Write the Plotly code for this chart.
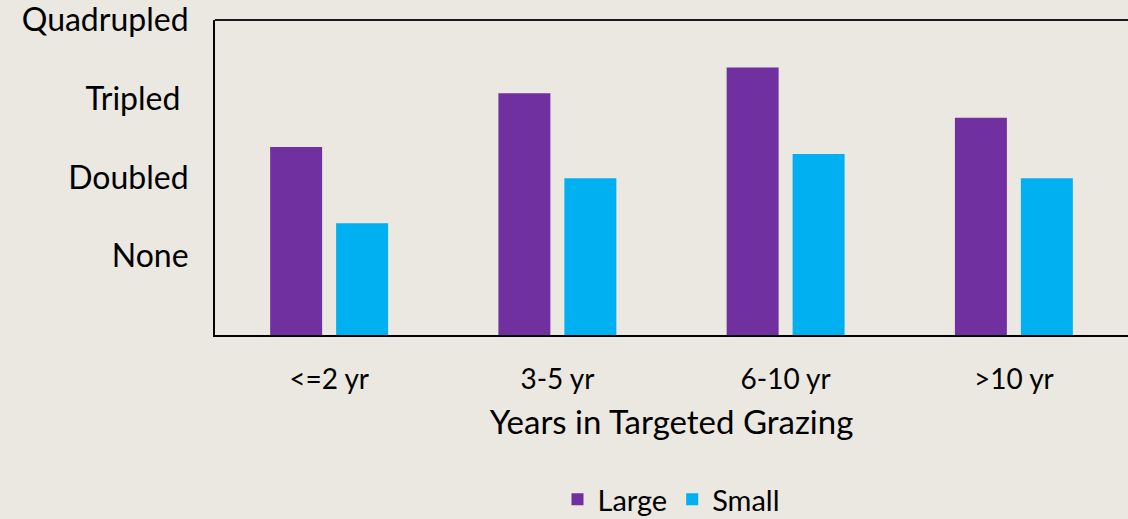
import plotly.graph_objects as go

categories = ["<=2 yr", "3-5 yr", "6-10 yr", ">10 yr"]
large = [2.39, 3.07, 3.40, 2.76]
small = [1.42, 1.99, 2.30, 1.99]
ytick_vals = [1, 2, 3, 4]
ytick_text = ["None", "Doubled", "Tripled ", "Quadrupled"]

FONT = "Lato"
fig = go.Figure()
fig.add_trace(go.Bar(x=categories, y=large, name="Large", marker_color="#7030A0",
                     marker_line_width=0))
fig.add_trace(go.Bar(x=categories, y=small, name="Small", marker_color="#00B0F0",
                     marker_line_width=0))

fig.update_layout(
    width=1128, height=519,
    margin=dict(l=215, r=0, t=20, b=184, autoexpand=False),
    paper_bgcolor="#EAE8E1", plot_bgcolor="rgba(0,0,0,0)",
    barmode="group", bargap=0.422, bargroupgap=0.212,
    font=dict(family=FONT, color="#000000"),
    showlegend=True,
    legend=dict(orientation="h", x=0.5, xanchor="center", y=-0.522, yanchor="middle",
                font=dict(size=29, family=FONT), itemwidth=30, bgcolor="rgba(0,0,0,0)",
                traceorder="normal"),
    xaxis=dict(showline=True, linecolor="#000000", linewidth=2, showgrid=False,
               ticks="", tickfont=dict(size=28, family=FONT), ticklabelstandoff=18,
               title=dict(text="Years in Targeted Grazing", font=dict(size=33, family=FONT),
                          standoff=17),
               range=[-0.5, 3.5]),
    yaxis=dict(showline=True, linecolor="#000000", linewidth=2, showgrid=False,
               zeroline=False, range=[0, 4.002], tickvals=ytick_vals, ticktext=ytick_text,
               tickfont=dict(size=32, family=FONT), ticks="", ticklabelstandoff=18,
               ticklabeloverflow="allow"),
    shapes=[dict(type="line", xref="paper", yref="paper", x0=0, x1=1, y0=1, y1=1,
                 line=dict(color="#1a1a1a", width=2))],
)

fig.write_html("out.html", config={"displayModeBar": False},
               post_script="document.body.style.margin='0';")
